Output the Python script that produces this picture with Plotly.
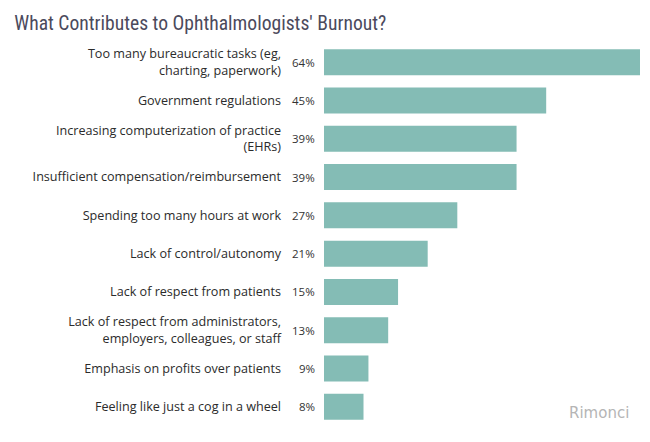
import plotly.graph_objects as go

categories = [
    "Too many bureaucratic tasks (eg,<br>charting, paperwork)",
    "Government regulations",
    "Increasing computerization of practice<br>(EHRs)",
    "Insufficient compensation/reimbursement",
    "Spending too many hours at work",
    "Lack of control/autonomy",
    "Lack of respect from patients",
    "Lack of respect from administrators,<br>employers, colleagues, or staff",
    "Emphasis on profits over patients",
    "Feeling like just a cog in a wheel",
]
values = [64, 45, 39, 39, 27, 21, 15, 13, 9, 8]
pct_labels = [f"{v}%" for v in values]

fig = go.Figure()
fig.add_trace(go.Bar(
    x=values, y=categories, orientation="h",
    marker=dict(color="#84bcb5", line=dict(width=0)),
    hoverinfo="skip",
))

for c, t in zip(categories, pct_labels):
    fig.add_annotation(x=0, y=c, xref="x", yref="y", text=t, showarrow=False,
                       xanchor="right", xshift=-7,
                       font=dict(family="Open Sans", size=11.5, color="#333333"))

fig.add_annotation(x=0.97, y=0.034, xref="paper", yref="paper", yanchor="middle",
                   xanchor="right", text="Rimonci", showarrow=False,
                   font=dict(family="DejaVu Sans", size=15, color="#b5b5b5"))

fig.update_layout(
    width=650, height=442,
    margin=dict(l=324, r=10, t=43, b=16),
    paper_bgcolor="white", plot_bgcolor="white",
    bargap=0.32,
    showlegend=False,
    title=dict(text="What Contributes to Ophthalmologists' Burnout?",
               x=0.022, xanchor="left", y=0.948, yanchor="middle",
               font=dict(family="Roboto Condensed, Roboto", size=19.6, color="#4b4a5c")),
    xaxis=dict(range=[0, 64], visible=False, fixedrange=True),
    yaxis=dict(autorange="reversed", showgrid=False, zeroline=False, showline=False,
               ticks="", ticklabelstandoff=42, automargin=False, fixedrange=True,
               tickfont=dict(family="Open Sans", size=12.6, color="#2b2b2b")),
)

fig.write_html("out.html", config={"displayModeBar": False},
               post_script="document.body.style.margin='0';")
